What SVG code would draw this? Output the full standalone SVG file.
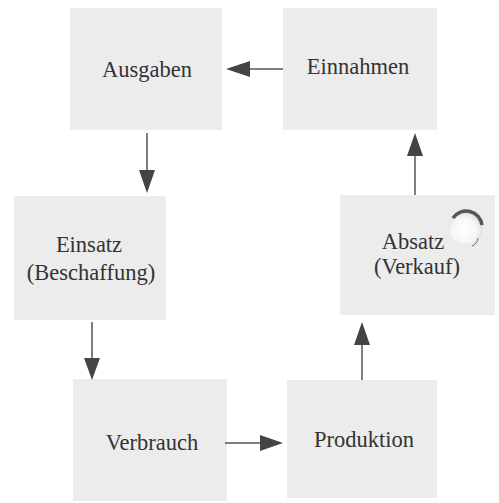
<svg xmlns="http://www.w3.org/2000/svg" width="499" height="503" viewBox="0 0 499 503">
<style>
.box{fill:#ececec;}
.lbl{font-family:"Liberation Serif","DejaVu Serif",serif;font-size:22.5px;fill:#333;text-anchor:middle;}
.con{stroke:#555;stroke-width:1.5;fill:none;}
.head{fill:#444;}
</style>
<defs>
<radialGradient id="glow" cx="0.45" cy="0.6" r="0.5">
<stop offset="0" stop-color="#ffffff"/>
<stop offset="0.75" stop-color="#f6f6f6"/>
<stop offset="1" stop-color="#e2e2e2"/>
</radialGradient>
</defs>
<rect width="499" height="503" fill="#ffffff"/>
<g id="ausgaben"><rect class="box" x="70" y="8" width="152" height="122"/><text class="lbl" x="147" y="77">Ausgaben</text></g>
<g id="einnahmen"><rect class="box" x="283" y="8" width="154" height="122"/><text class="lbl" x="358" y="74">Einnahmen</text></g>
<g id="einsatz"><rect class="box" x="14" y="196" width="152" height="124"/><text class="lbl" x="89" y="252">Einsatz</text><text class="lbl" x="91" y="280">(Beschaffung)</text></g>
<g id="absatz"><rect class="box" x="340" y="195" width="155" height="120"/><text class="lbl" x="413" y="249">Absatz</text><text class="lbl" x="417" y="274">(Verkauf)</text>
<circle cx="466" cy="227" r="17" fill="url(#glow)"/>
<path d="M453,218 A16,16 0 0 1 482,225" stroke="#555" stroke-width="3.5" fill="none"/>
<path d="M478,238 A10,10 0 0 1 472,246" stroke="#666" stroke-width="1" fill="none"/></g>
<g id="verbrauch"><rect class="box" x="73" y="379" width="154" height="122"/><text class="lbl" x="152" y="450">Verbrauch</text></g>
<g id="produktion"><rect class="box" x="287" y="380" width="150" height="118"/><text class="lbl" x="364" y="447">Produktion</text></g>
<g id="connectors">
<line class="con" x1="283" y1="69" x2="248" y2="69"/><polygon class="head" points="226,69 250,61 250,77"/>
<line class="con" x1="147" y1="133" x2="147" y2="172"/><polygon class="head" points="147,193 139,170 155,170"/>
<line class="con" x1="415" y1="195" x2="415" y2="156"/><polygon class="head" points="415,133 407,156 423,156"/>
<line class="con" x1="92" y1="322" x2="92" y2="360"/><polygon class="head" points="92,380 84,358 100,358"/>
<line class="con" x1="225" y1="443" x2="261" y2="443"/><polygon class="head" points="283,443 260,435 260,451"/>
<line class="con" x1="362" y1="380" x2="362" y2="344"/><polygon class="head" points="362,322 354,345 370,345"/>
</g>
</svg>
